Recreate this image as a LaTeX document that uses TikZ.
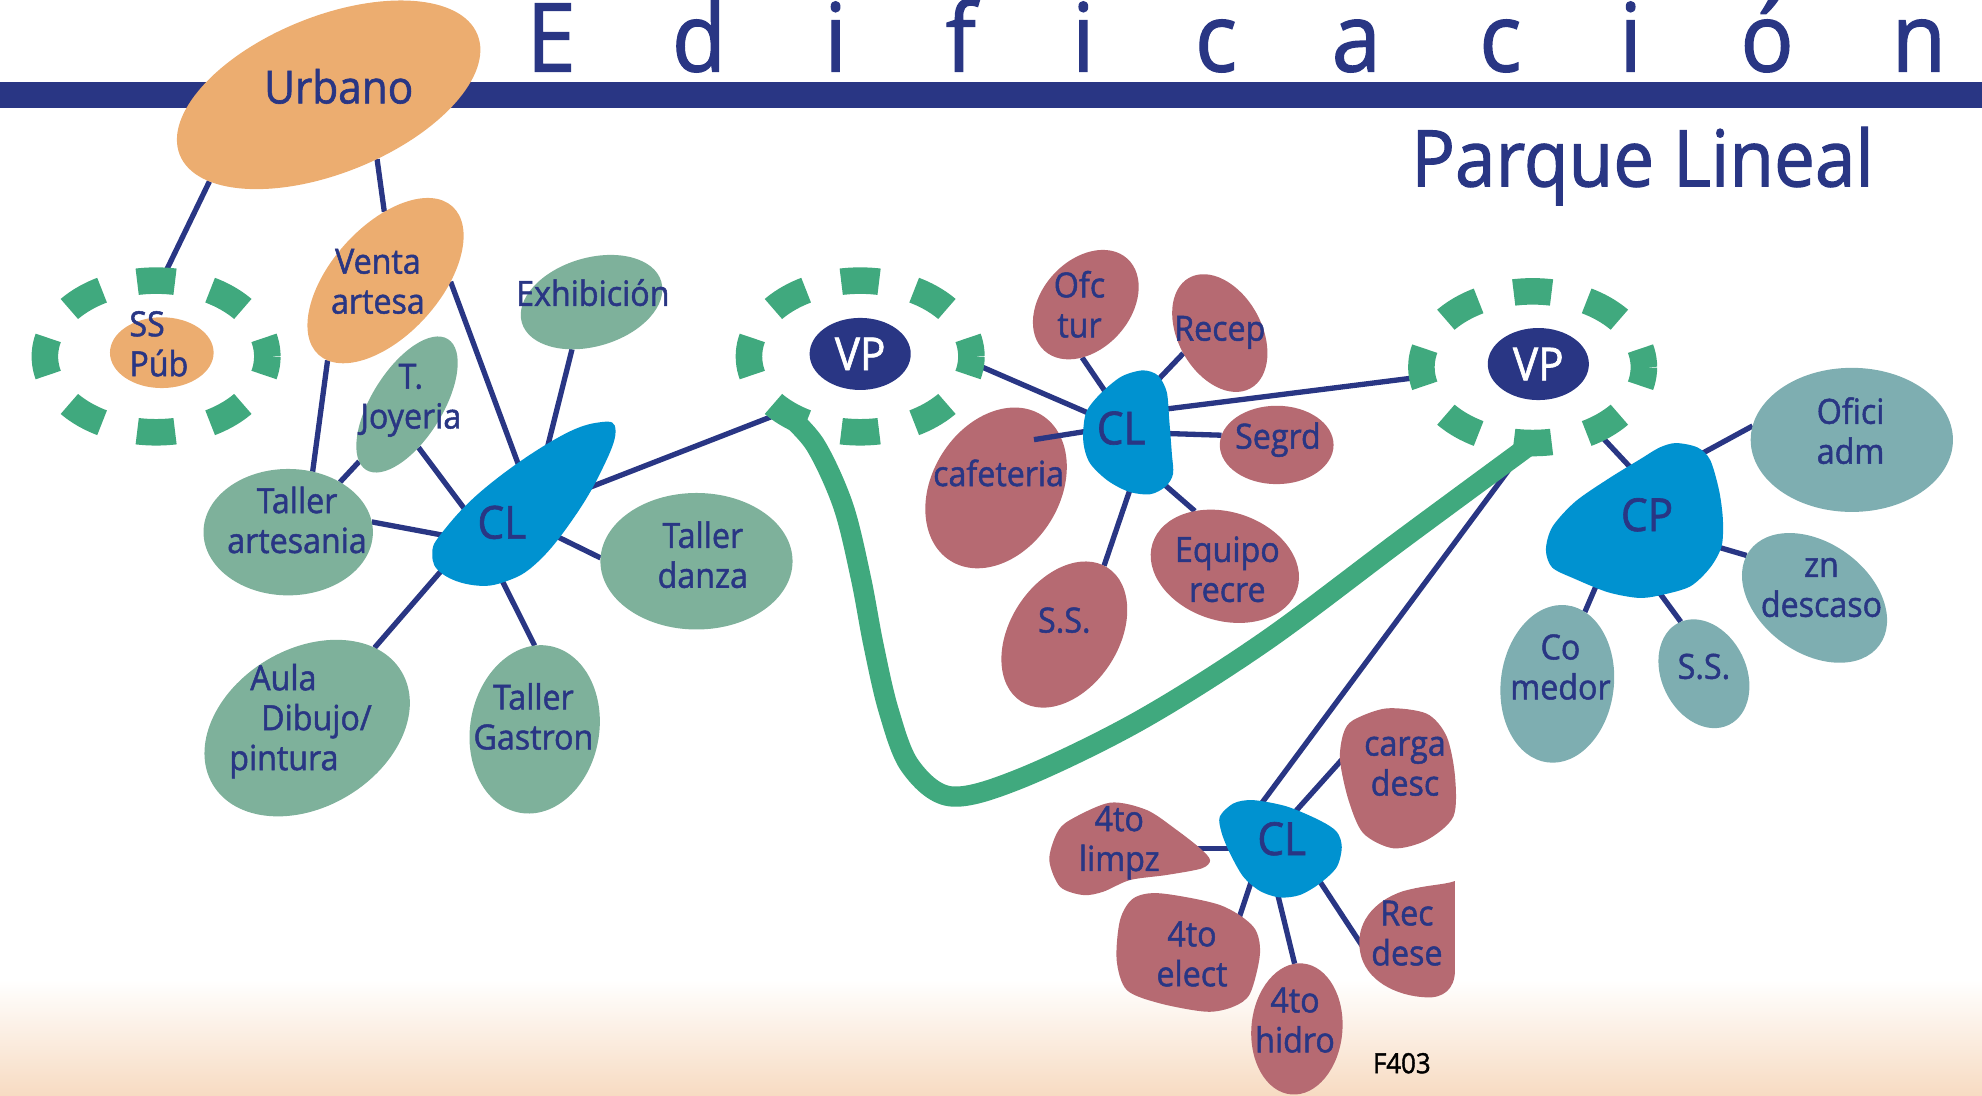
\documentclass[tikz,border=0pt]{standalone}
\usepackage{fontspec}
\setmainfont{Open Sans}[FakeStretch=0.93, FakeBold=1.4]
\usetikzlibrary{shapes.geometric}
\pgfdeclarelayer{bg}
\pgfsetlayers{bg,main}

\definecolor{navy}{RGB}{41,54,132}
\definecolor{hubblue}{RGB}{0,146,208}
\definecolor{ringgreen}{RGB}{64,169,126}
\definecolor{sage}{RGB}{126,177,155}
\definecolor{tealgrey}{RGB}{126,174,177}
\definecolor{rose}{RGB}{182,106,114}
\definecolor{sand}{RGB}{236,173,112}
\definecolor{peach}{RGB}{247,219,194}

\begin{document}
\begin{tikzpicture}[
    x=0.5pt, y=-0.5pt,
    zone/.style n args={3}{ellipse, inner sep=0pt, outer sep=0pt,
      minimum width=#1pt, minimum height=#2pt, rotate=#3},
    ring/.style={ellipse, inner sep=0pt, outer sep=0pt,
      minimum width=88pt, minimum height=60pt},
    ringdash/.style={draw=ringgreen, line width=10.5pt,
      dash pattern=on 15pt off 14.32pt, dash phase=7.5pt},
    vp/.style={ellipse, fill=navy, text=white, inner sep=0pt,
      minimum width=40pt, minimum height=28.5pt, font=\fontsize{18}{21}\selectfont},
    link/.style={navy, line width=2.1pt},
    route/.style={ringgreen, line width=8pt, line join=round},
    hub/.style={fill=hubblue},
    lbl/.style={inner sep=0pt, text=navy, align=center,
      font=\fontsize{13.7}{15.8}\selectfont},
    big/.style={inner sep=0pt, text=navy, anchor=base,
      font=\fontsize{18}{21}\selectfont},
    head/.style={inner sep=0pt, text=navy, anchor=base,
      font=\fontsize{37.6}{40}\selectfont}
  ]
    \useasboundingbox (0,0) rectangle (1568,867);

    % Dashed rings (SS and the two VP)
    \node[ring] (ssring) at (123.5,282) {};
    \node[ring] (vp1ring) at (680.5,282) {};
    \node[ring] (vp2ring) at (1212.5,290.5) {};
    \foreach \r in {ssring,vp1ring,vp2ring}
      \draw[ringdash] (\r.center) ellipse [x radius=88, y radius=60];
    \node[vp] (vp1) at (680.5,280) {VP};
    \node[vp] (vp2) at (1217,288) {VP};

    % Orange zones
    \node[zone={127}{62}{22}, fill=sand] (urbano) at (260,75) {};
    \node[zone={79}{43}{48}, fill=sand] (venta) at (305,222) {};
    \node[zone={41}{28}{0}, fill=sand] (sspub) at (128,279) {};

    % Left cluster (green)
    \node[zone={61}{28}{58}, fill=sage] (tjoy) at (322,320) {};
    \node[zone={67}{50}{0}, fill=sage] (tart) at (228,421) {};
    \node[zone={57.5}{35}{16.5}, fill=sage] (exhib) at (468,239) {};
    \node[zone={76}{54}{0}, fill=sage] (danza) at (551,444) {};
    \node[zone={67}{51}{80}, fill=sage] (gastron) at (423,577) {};
    \node[zone={87}{62.5}{31}, fill=sage] (aula) at (243,576) {};

    % Middle cluster (rose)
    \node[zone={49}{35}{48}, fill=rose] (ofc) at (859,241) {};
    \node[zone={50}{33}{-61}, fill=rose] (recep) at (965,263.5) {};
    \node[zone={45}{31}{0}, fill=rose] (segrd) at (1010,352) {};
    \node[zone={60}{43}{-17.5}, fill=rose] (equipo) at (969,448) {};
    \node[zone={63}{43}{57}, fill=rose] (ssmid) at (842,502) {};
    \node[zone={68}{50.5}{58}, fill=rose] (cafe) at (788,386) {};

    % Right cluster (grey teal)
    \node[zone={80}{57}{0}, fill=tealgrey] (ofici) at (1465,348) {};
    \node[zone={63.5}{43.5}{-36}, fill=tealgrey] (zn) at (1435.5,473) {};
    \node[zone={45}{33.5}{-64}, fill=tealgrey] (ssr) at (1348,533) {};
    \node[zone={62.6}{44.7}{83}, fill=tealgrey] (comedor) at (1232,541) {};

    % Bottom cluster (rose)
    \node[zone={52}{36}{85}, fill=rose] (hidro) at (1026,814) {};
    \fill[rose] plot[smooth cycle] coordinates {(1070.7,569.6) (1097,560.4)
      (1128.7,564.6) (1144.5,582.7) (1151.1,614.3) (1149.8,646) (1128.7,664.6)
      (1102.3,671.1) (1078.5,659.2) (1066.8,632.9) (1060.1,601.3) (1062.8,580.2)};
    \fill[rose] plot[smooth cycle] coordinates {(896.6,710.7) (917.7,706.7)
      (965.2,716) (991.5,733.1) (996.8,754.2) (989,785.9) (975.7,796.4)
      (954.6,800.4) (917.7,793.8) (891.4,783.2) (883.4,759.5) (886.1,727.8)};
    \fill[rose] plot[smooth cycle] coordinates {(846.5,648.7) (878.2,635)
      (907.2,640.8) (930.9,656.6) (949.4,671.1) (957.3,680.4) (950.7,687)
      (923,692.2) (894,696.2) (872.9,705.4) (857,708.1) (838.6,701.5)
      (830.1,680.4) (836,659.3)};
    \fill[rose] (1151,697) -- (1151,768) .. controls (1151,782) and (1142,790) .. (1128,789)
      .. controls (1105,788) and (1080,776) .. (1076,753)
      .. controls (1072,731) and (1086,713) .. (1110,705)
      .. controls (1128,700) and (1143,700) .. cycle;

    % Connector ends inside the hubs and blobs
    \coordinate (cl1-venta) at (414,378);
    \coordinate (cl1-tjoy) at (373,410);
    \coordinate (cl1-tart) at (359,425);
    \coordinate (cl1-exhib) at (430.6,363.7);
    \coordinate (cl1-danza) at (432.6,420.5);
    \coordinate (cl1-aula) at (355.3,444.4);
    \coordinate (cl1-gastron) at (392.6,450.1);
    \coordinate (cl1-vp) at (461.8,387.4);
    \coordinate (cl2-vp) at (872.6,331.8);
    \coordinate (cl2-ofc) at (882,321);
    \coordinate (cl2-recep) at (907.1,310);
    \coordinate (cl2-vpr) at (912.1,324.9);
    \coordinate (cl2-segrd) at (915.2,342.7);
    \coordinate (cl2-equipo) at (915,378);
    \coordinate (cl2-ss) at (896.8,378.9);
    \coordinate (cl2-cafe) at (870.9,339.4);
    \coordinate (cafe-tip) at (818,347.8);
    \coordinate (cp-vp) at (1296.3,376.7);
    \coordinate (cp-ofici) at (1335,365);
    \coordinate (cp-zn) at (1348.6,429.7);
    \coordinate (cp-ss) at (1307.6,461.8);
    \coordinate (cp-comedor) at (1266.5,454.5);
    \coordinate (cl3-vp) at (993.4,641.8);
    \coordinate (cl3-carga) at (1017.9,649.7);
    \coordinate (carga-in) at (1068.1,593.7);
    \coordinate (cl3-limpz) at (982.5,671.1);
    \coordinate (limpz-in) at (940,671.1);
    \coordinate (cl3-elect) at (992.8,688.6);
    \coordinate (elect-in) at (977.2,735.4);
    \coordinate (cl3-hidro) at (1008.4,697.7);
    \coordinate (cl3-rec) at (1037.7,687.5);
    \coordinate (rec-in) at (1081.2,753.7);

    \begin{pgfonlayer}{bg}
      % Background band and header bar
      \shade[top color=white, bottom color=peach] (0,775) rectangle (1568,867);
      \fill[navy] (0,64.5) rectangle (1568,85.5);

      % Links
      \draw[link] (urbano.194) -- (ssring.86);
      \draw[link] (urbano.285) -- (venta.43);
      \draw[link] (venta.311) -- (cl1-venta);
      \draw[link] (venta.186) -- (tart.68);
      \draw[link] (tjoy.172) -- (tart.44);
      \draw[link] (tjoy.227) -- (cl1-tjoy);
      \draw[link] (tart.7) -- (cl1-tart);
      \draw[link] (exhib.231) -- (cl1-exhib);
      \draw[link] (cl1-danza) -- (danza.178);
      \draw[link] (cl1-aula) -- (aula.19);
      \draw[link] (cl1-gastron) -- (gastron.10);
      \draw[link] (cl1-vp) -- (vp1ring.216);
      \draw[link] (cl2-vp) -- (vp1ring.357);
      \draw[link] (cl2-ofc) -- (ofc.218);
      \draw[link] (cl2-recep) -- (recep.270);
      \draw[link] (cl2-vpr) -- (vp2ring.185);
      \draw[link] (cl2-segrd) -- (segrd.170);
      \draw[link] (cl2-equipo) -- (equipo.136);
      \draw[link] (cl2-ss) -- (ssmid.3);
      \draw[link] (vp2ring.315) -- (cp-vp);
      \draw[link] (cp-ofici) -- (ofici.172);
      \draw[link] (cp-zn) -- (zn.184);
      \draw[link] (cp-ss) -- (ssr.178);
      \draw[link] (cp-comedor) -- (comedor.346);
      \draw[link] (cl3-vp) -- (vp2ring.267);
      \draw[link] (cl3-carga) -- (carga-in);
      \draw[link] (cl3-limpz) -- (limpz-in);
      \draw[link] (cl3-elect) -- (elect-in);
      \draw[link] (cl3-hidro) -- (hidro.7);
      \draw[link] (cl3-rec) -- (rec-in);
    \end{pgfonlayer}

    % Green route between the two VP
    \draw[route] plot[smooth, tension=0.55] coordinates {(vp2ring.south) (1110,426)
      (1000,508) (900,571) (807,616) (752,630) (720,606) (703,562)
      (691,510) (681,457) (667,400) (645,352) (vp1ring.217)};

    \draw[link] (cl2-cafe) -- (cafe-tip);

    % Hubs
    \fill[hub] plot[smooth cycle, tension=0.7] coordinates {(487,341) (476,372)
      (453,411) (425,445) (400,460) (375,463) (350,454) (342,439) (350,421)
      (385,385) (440,347) (475,334)};
    \fill[hub] plot[smooth cycle] coordinates {(904,293) (916,297) (923,310)
      (925,332) (927,358) (928,375) (922,385) (910,391) (893,389) (876,380)
      (862,366) (857,349) (859,327) (870,312) (887,298)};
    \fill[hub] plot[smooth cycle] coordinates {(1326,350.5) (1343,354) (1353,364)
      (1360,388) (1363,411) (1362,432) (1353,449) (1337,464) (1313,471)
      (1296,473) (1272,468.5) (1246,458) (1228,449) (1223,435) (1228,417)
      (1246,397) (1272,379) (1298,363) (1313,354)};
    \fill[hub] plot[smooth cycle] coordinates {(965,646) (976,635.5) (991.5,633)
      (1018,638) (1044,649) (1057.5,658) (1061.5,670) (1057.5,686) (1044,699)
      (1028.5,708) (1012.7,710) (997,705) (983.6,693.6) (973,675) (966.5,659)};

    % Labels
    \node[big] (urbano-t) at (268,81.8) {Urbano};
    \node[lbl, align=left, anchor=west] (sspub-t) at (102,272) {SS\\Púb};
    \node[lbl] (venta-t) at (299,222.6) {Venta\\artesa};
    \node[lbl] (tjoy-t) at (325,316.7) {T.\\Joyeria};
    \node[lbl] (tart-t) at (235,411.4) {Taller\\artesania};
    \node[lbl, anchor=base] (exhib-t) at (469,241.9) {Exhibición};
    \node[lbl] (danza-t) at (556,438.9) {Taller\\danza};
    \node[lbl] (gastron-t) at (422,566.8) {Taller\\Gastron};
    \node[lbl, align=left, anchor=west] (aula-t) at (181,570.5)
      {\hspace*{8.3pt}Aula\\\hspace*{12.6pt}Dibujo/\\pintura};
    \node[big] (cl1-t) at (397,426.1) {CL};

    \node[lbl] (ofc-t) at (854,240.7) {Ofc\\tur};
    \node[lbl, anchor=base] (recep-t) at (965,269.5) {Recep};
    \node[lbl, anchor=base] (segrd-t) at (1011,354.9) {Segrd};
    \node[lbl] (equipo-t) at (971,450.4) {Equipo\\recre};
    \node[lbl, anchor=base] (ssmid-t) at (842,500.4) {S.S.};
    \node[lbl, anchor=base] (cafe-t) at (790,384.5) {cafeteria};
    \node[big] (cl2-t) at (887,351.5) {CL};

    \node[lbl] (ofici-t) at (1464,340.7) {Ofici\\adm};
    \node[lbl] (zn-t) at (1441,464.8) {zn\\descaso};
    \node[lbl, anchor=base] (ssr-t) at (1348,537) {S.S.};
    \node[lbl] (comedor-t) at (1234.5,527.7) {Co\\medor};
    \node[big] (cp-t) at (1303,420.1) {CP};

    \node[lbl] (carga-t) at (1111.5,606.2) {carga\\desc};
    \node[lbl] (rec-t) at (1113,738.2) {Rec\\dese};
    \node[lbl] (hidro-t) at (1024.5,807) {4to\\hidro};
    \node[lbl] (elect-t) at (943,754.7) {4to\\elect};
    \node[lbl] (limpz-t) at (885.5,666.7) {4to\\limpz};
    \node[big] (cl3-t) at (1014,676.4) {CL};

    % Header
    \foreach \ch/\xx in {E/436,d/553,i/661,f/760,i/857,c/962,a/1073,c/1187,i/1290,ó/1398,n/1518}
      \node[head] (head\xx) at (\xx,56.5) {\ch};
    \node[inner sep=0pt, text=navy, anchor=base west,
      font=\fontsize{31}{34}\selectfont] (title) at (1116,147.5) {Parque Lineal};
    \node[inner sep=0pt, anchor=base, font=\fontsize{11}{13}\selectfont]
      (code) at (1109,849) {F403};
\end{tikzpicture}
\end{document}
